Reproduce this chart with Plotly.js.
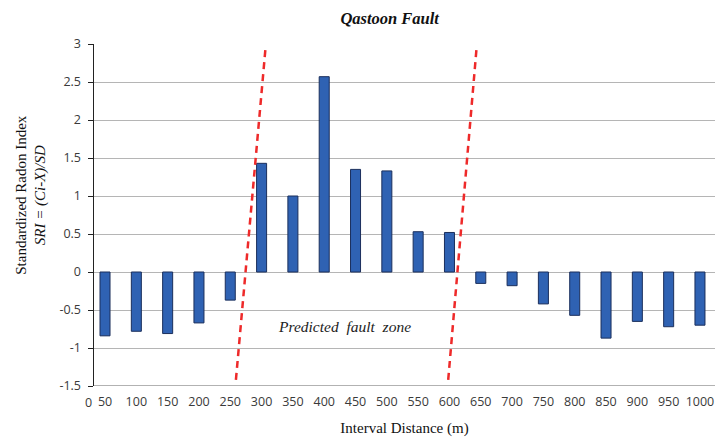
<!DOCTYPE html>
<html>
<head>
<meta charset="utf-8">
<script src="https://cdn.plot.ly/plotly-3.0.1.min.js"></script>
<style>html,body{margin:0;padding:0;background:#fff;}#chart{width:715px;height:437px;}</style>
</head>
<body>
<div id="chart"></div>
<script>
var distances = [50,100,150,200,250,300,350,400,450,500,550,600,650,700,750,800,850,900,950,1000];
var sriValues = [-0.84,-0.78,-0.81,-0.67,-0.37,1.43,1.0,2.57,1.35,1.33,0.53,0.52,-0.15,-0.18,-0.42,-0.57,-0.87,-0.65,-0.72,-0.70];
var yTicks = [-1.5,-1,-0.5,0,0.5,1,1.5,2,2.5,3];
var yTickLabels = ['-1.5','-1','-0.5','0','0.5','1','1.5','2','2.5','3'];
var faultLeftX = [259, 306];
var faultRightX = [598, 643];
var faultY = [-1.42, 2.92];

var bars = {
  type: 'bar', x: distances, y: sriValues, width: 16,
  marker: {color: '#2f62b3', line: {color: '#1b2f5c', width: 1}},
  hoverinfo: 'x+y'
};
var l1 = {type:'scatter', mode:'lines', x: faultLeftX, y: faultY,
  line:{color:'#ee2a2a', width:2.5, dash:'7px,5px'}, hoverinfo:'skip'};
var l2 = {type:'scatter', mode:'lines', x: faultRightX, y: faultY,
  line:{color:'#ee2a2a', width:2.5, dash:'7px,5px'}, hoverinfo:'skip'};

var tickFont = {family:'Open Sans, Liberation Sans, sans-serif', size:12.5, color:'#3a3a3a'};
var layout = {
  width:715, height:437,
  margin:{l:94, r:0, t:44, b:51},
  paper_bgcolor:'#fff', plot_bgcolor:'#fff',
  showlegend:false,
  title:{text:'<b><i>Qastoon Fault</i></b>', x:0.545, xanchor:'center', y:0.958, yanchor:'middle',
    font:{family:'Liberation Serif, serif', size:16.5, color:'#111'}},
  xaxis:{range:[32.4,1024], tickvals: distances, ticktext: distances.map(String),
    tickfont: tickFont, showgrid:false, zeroline:false, showline:false,
    ticks:'outside', ticklen:4, tickcolor:'rgba(0,0,0,0)',
    title:{text:'Interval Distance (m)', standoff:16, font:{family:'Liberation Serif, serif', size:15, color:'#111'}}},
  yaxis:{range:[-1.5,3], tickvals: yTicks, ticktext: yTickLabels, tickfont: tickFont,
    showgrid:true, gridcolor:'#b5b5b5', gridwidth:1, zeroline:true, zerolinecolor:'#b5b5b5', zerolinewidth:1,
    showline:true, linecolor:'#222', linewidth:1.5, ticks:'outside', ticklen:5, tickcolor:'#222',
    ticklabelstandoff:4},
  shapes:[{type:'line', xref:'paper', yref:'y', x0:0, x1:1, y0:-1.5, y1:-1.5, line:{color:'#999', width:1.5}}],
  annotations:[
    {text:'<i>Predicted  fault  zone</i>', x:433, y:-0.72, xref:'x', yref:'y', showarrow:false,
      font:{family:'Liberation Serif, serif', size:15.5, color:'#222'}},
    {text:'0', xref:'paper', yref:'paper', x:-0.0095, y:-0.047, xanchor:'center', yanchor:'middle', showarrow:false, font: tickFont},
    {text:'Standardized Radon Index<br><i>SRI = (Ci-X)/SD</i>', xref:'paper', yref:'paper',
      x:-0.101, y:0.56, xanchor:'center', yanchor:'middle', textangle:-90, showarrow:false,
      font:{family:'Liberation Serif, serif', size:15, color:'#111'}}
  ]
};
Plotly.newPlot('chart', [bars, l1, l2], layout, {displayModeBar:false, staticPlot:true});
</script>
</body>
</html>
